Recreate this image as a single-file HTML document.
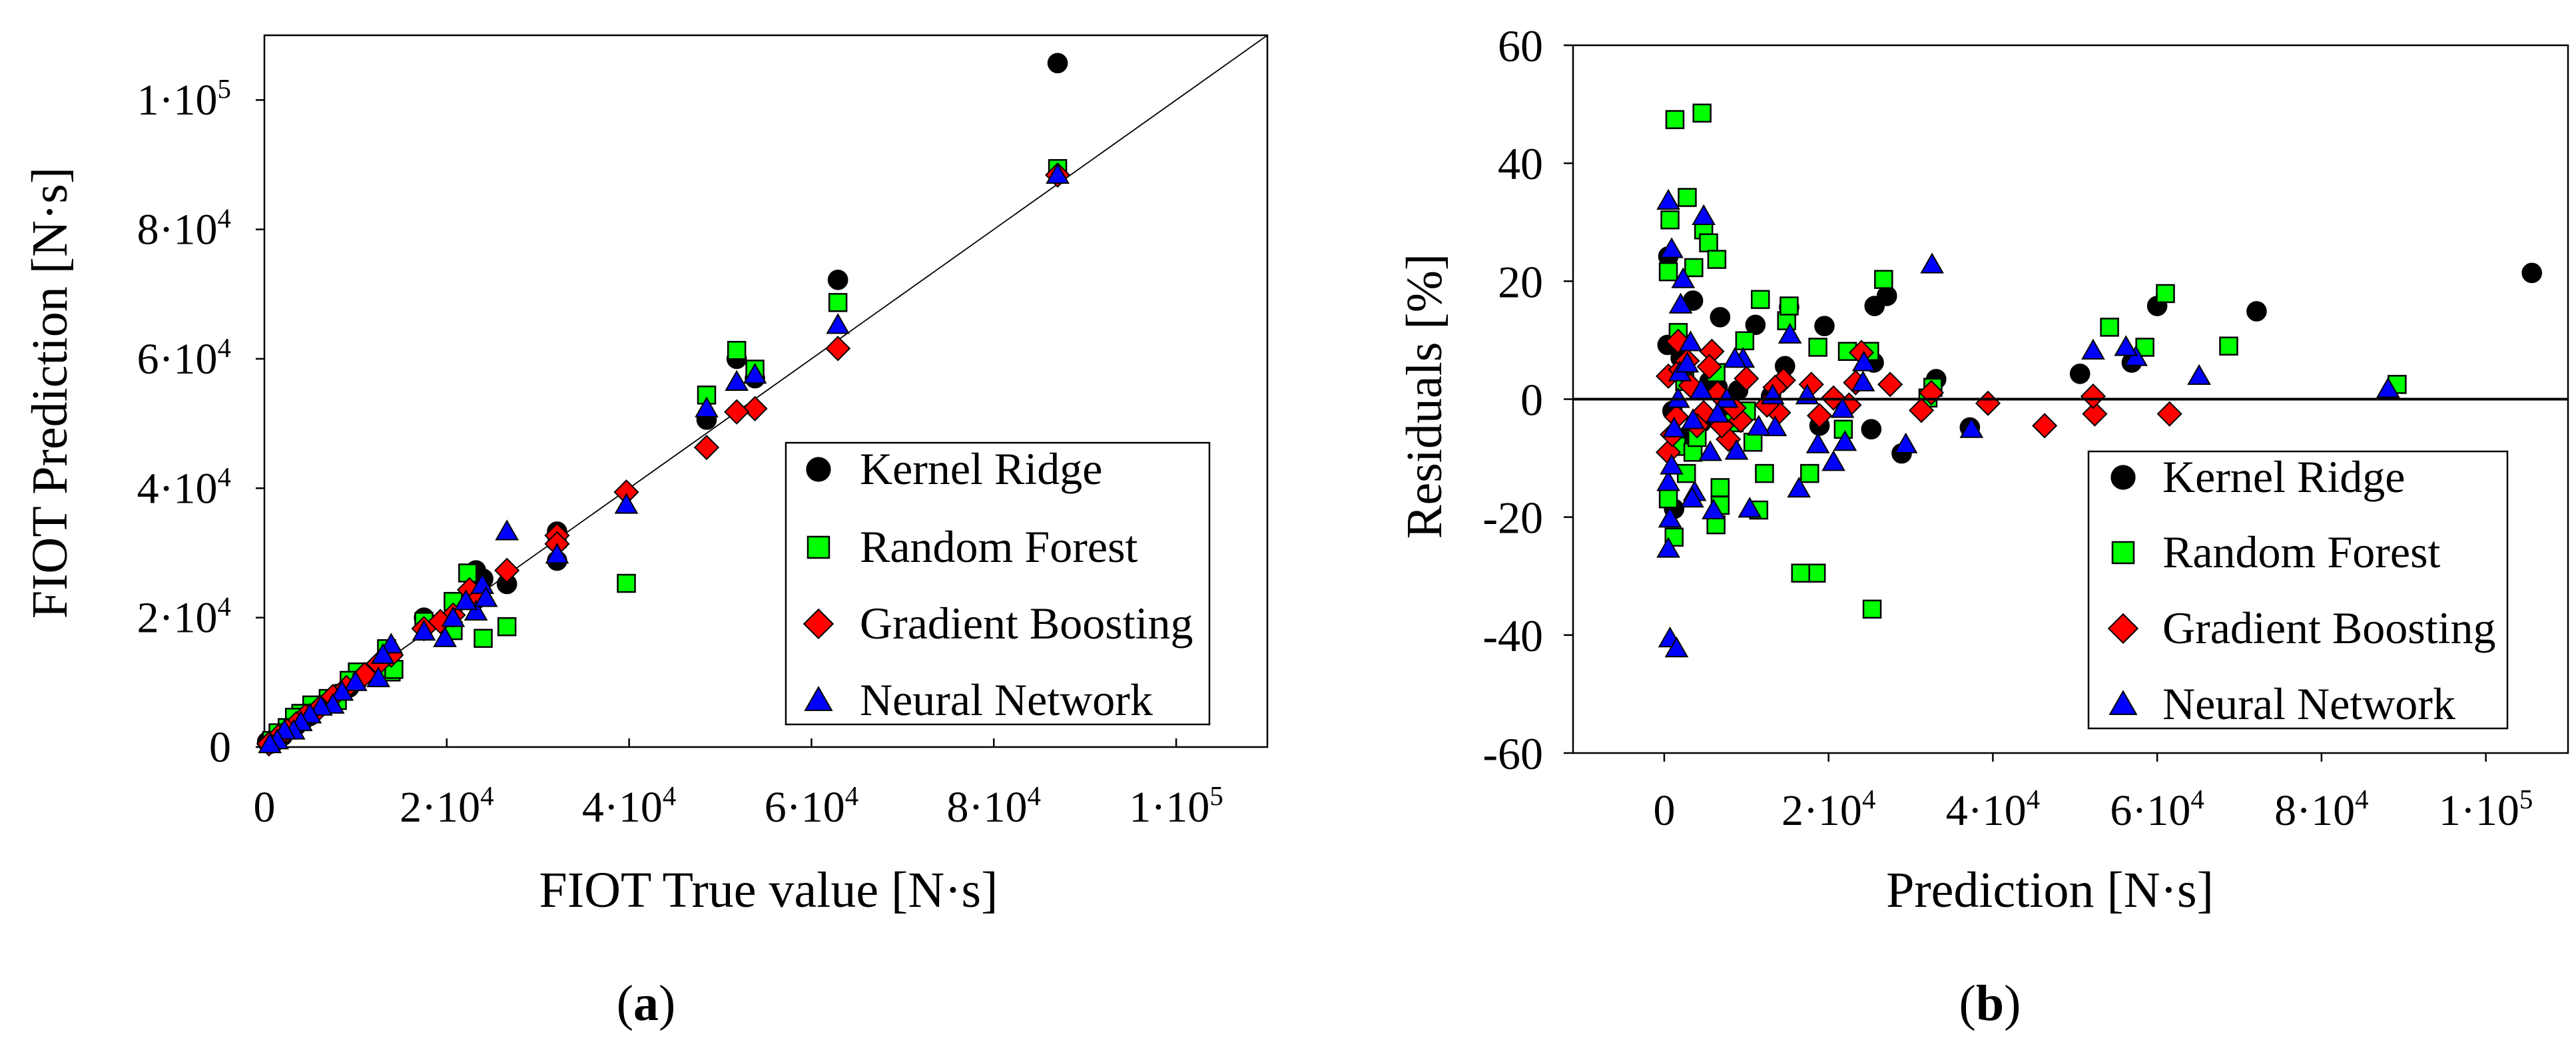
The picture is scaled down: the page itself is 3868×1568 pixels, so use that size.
<!DOCTYPE html>
<html><head><meta charset="utf-8"><style>
html,body{margin:0;padding:0;background:#fff;}
svg{display:block;}
text{font-family:"Liberation Serif",serif;fill:#000;}
</style></head><body>
<svg id="fig" width="3868" height="1568" viewBox="0 0 3868 1568" xmlns="http://www.w3.org/2000/svg">
<g id="pa"></g>
<g id="pb"></g>
</svg>
<script>
// ---- Panel (a) data: true value (1e4 N·s) vs prediction (1e4 N·s)
const aKRx=[8.70,6.29,5.18,4.85,5.38,3.21,3.21,2.66,2.32,2.40,1.75,1.39,1.25,1.02,0.93,0.80,0.70,0.60,0.50,0.42,0.35,0.28,0.20,0.12,0.06,0.03];
const aKRy=[10.57,7.22,6.00,5.06,5.70,3.33,2.88,2.52,2.73,2.60,2.00,1.45,1.10,1.02,0.92,0.82,0.72,0.63,0.48,0.40,0.33,0.30,0.17,0.14,0.05,0.08];
const aRFx=[8.70,6.29,5.18,5.38,4.85,3.97,2.66,2.40,2.23,2.07,2.07,3.21,1.75,1.34,1.39,1.02,0.93,0.80,0.70,0.52,0.40,0.33,0.25,0.15,0.08,1.30,1.42];
const aRFy=[8.94,6.87,6.13,5.84,5.44,2.53,1.86,1.68,2.69,2.25,1.80,3.22,1.94,1.52,1.16,1.16,1.03,0.72,0.75,0.65,0.52,0.46,0.30,0.22,0.10,1.20,1.20];
const aGBx=[8.70,6.29,5.38,5.18,4.85,3.97,2.66,3.21,3.21,2.25,2.07,1.93,1.75,1.39,1.25,1.10,0.90,0.75,0.60,0.45,0.35,0.25,0.15,0.05,2.35];
const aGBy=[8.84,6.16,5.23,5.18,4.63,3.94,2.73,3.27,3.14,2.43,2.04,1.94,1.83,1.42,1.29,1.12,0.92,0.78,0.60,0.48,0.36,0.25,0.16,0.05,2.30];
const aNNx=[8.70,6.29,5.18,5.38,4.85,3.97,2.66,3.21,2.39,2.32,2.21,1.98,1.75,2.07,1.39,1.30,1.25,1.00,0.85,0.75,0.62,0.50,0.40,0.32,0.22,0.14,0.06,2.43];
const aNNy=[8.84,6.52,5.64,5.75,5.23,3.74,3.33,2.97,2.50,2.09,2.25,1.68,1.78,1.99,1.58,1.42,1.06,1.00,0.85,0.65,0.62,0.50,0.38,0.25,0.25,0.10,0.04,2.30];
const aTicks=[0,2,4,6,8,10];
const aTickLabels=[["0",""],["2·10","4"],["4·10","4"],["6·10","4"],["8·10","4"],["1·10","5"]];

// ---- Panel (b) data: prediction (1e4 N·s) vs residual (%)
const bKRx=[10.56,7.21,6.00,5.69,5.06,3.31,2.89,3.72,2.71,2.56,2.52,2.55,1.95,1.52,1.47,1.11,0.68,0.35,0.05,0.04,0.12,1.89,0.30,0.55,0.75,0.90,0.20,0.45,0.10,1.30,0.65];
const bKRy=[21.4,14.9,15.8,6.2,4.3,3.4,-9.2,-4.8,17.5,15.8,-5.1,6.2,12.4,15.6,5.6,12.6,13.9,16.7,24.2,9.2,-18.6,-4.5,-6.0,3.0,-1.0,1.5,7.0,-4.0,-2.0,0.5,2.0];
const bRFx=[8.92,6.87,6.10,5.85,5.42,3.21,3.27,2.67,2.53,1.85,1.66,1.77,2.50,2.23,1.87,1.49,1.52,1.17,1.22,1.15,0.98,0.46,0.13,0.28,0.48,0.54,0.64,0.36,0.07,0.05,0.12,0.05,0.63,0.68,0.68,0.27,0.17,1.08,0.63,2.18,0.15,0.35,0.85,1.00,0.40,0.25];
const bRFy=[2.5,9.0,17.9,8.8,12.2,0.2,2.0,20.3,-35.6,-29.5,-29.5,-12.6,8.1,8.1,8.8,13.3,15.8,16.9,-12.6,-18.8,9.9,48.5,47.4,34.2,28.7,26.5,23.7,22.3,30.4,21.6,-23.4,-16.9,-21.3,-18.0,-15.0,-12.6,11.3,-7.3,4.5,-5.1,-8.0,-9.0,-4.0,-2.0,-6.5,3.0];
const bGBx=[6.15,5.24,5.22,4.63,3.94,3.25,3.13,2.75,2.40,2.33,2.06,1.79,1.89,1.45,1.39,0.93,0.58,0.17,0.05,0.05,0.48,0.78,0.32,0.20,0.40,0.65,1.00,1.25,0.10,0.55,0.28,0.85,1.35,2.25,0.15,0.70];
const bGBy=[-2.5,-2.5,0.5,-4.5,-0.7,1.1,-1.9,2.5,7.9,2.8,0.2,2.5,-2.8,3.2,-2.3,-3.6,8.1,9.8,3.9,-9.0,-2.3,-6.8,2.3,5.0,-4.5,1.0,3.5,-1.0,-6.0,5.5,6.5,-1.5,2.0,-1.0,-3.0,-4.5];
const bNNx=[8.81,6.51,5.74,5.62,5.22,3.74,3.26,2.94,2.43,2.42,2.20,2.06,2.17,1.87,1.64,1.74,1.53,1.35,1.32,1.15,1.04,0.96,0.86,0.88,0.48,0.23,0.20,0.05,0.09,0.32,0.37,0.34,0.05,0.05,0.07,0.07,0.15,0.09,0.17,0.56,0.60,0.76,0.35,0.19,0.45,0.28,0.65,0.12];
const bNNy=[1.7,3.9,7.1,8.8,8.2,-5.1,22.8,-7.7,6.2,2.8,-7.3,-10.7,-1.7,-7.7,-15.2,0.6,10.9,-4.8,0.6,-4.7,-18.6,6.8,6.8,-8.8,31.0,20.3,16.0,33.6,25.4,9.6,-15.8,-16.9,-14.1,-25.4,-20.3,-40.6,-42.3,-11.3,0.0,-9.0,-18.9,0.0,-3.6,4.5,1.5,6.0,-2.5,-5.0];
const bXTicks=[0,2,4,6,8,10];
const bXTickLabels=[["0",""],["2·10","4"],["4·10","4"],["6·10","4"],["8·10","4"],["1·10","5"]];
const bYTicks=[-60,-40,-20,0,20,40,60];
const bYTickLabels=["-60","-40","-20","0","20","40","60"];
const legendNames=["Kernel Ridge","Random Forest","Gradient Boosting","Neural Network"];

const NS="http://www.w3.org/2000/svg";
function mk(parent,tag,attrs){const e=document.createElementNS(NS,tag);for(const k in attrs)e.setAttribute(k,attrs[k]);parent.appendChild(e);return e;}
const styles=[{shape:"circle",fill:"#000"},{shape:"square",fill:"#00ff00"},{shape:"diamond",fill:"#ff0000"},{shape:"triangle",fill:"#0000ff"}];
function marker(g,shape,fill,cx,cy,s){
  let e;
  if(shape==="circle")e=mk(g,"circle",{cx:cx,cy:cy,r:s*0.55,fill:fill,stroke:"#000","stroke-width":2});
  else if(shape==="square")e=mk(g,"rect",{x:cx-s/2,y:cy-s/2,width:s,height:s,fill:fill,stroke:"#000","stroke-width":2.5});
  else if(shape==="diamond"){const d=s*0.68;e=mk(g,"polygon",{points:`${cx},${cy-d} ${cx+d},${cy} ${cx},${cy+d} ${cx-d},${cy}`,fill:fill,stroke:"#000","stroke-width":2});}
  else {const h=s*0.62;e=mk(g,"polygon",{points:`${cx},${cy-h} ${cx+h},${cy+h*0.75} ${cx-h},${cy+h*0.75}`,fill:fill,stroke:"#000","stroke-width":2});}
  return e;
}
function supLabel(g,x,y,parts,anchor,size){
  const t=mk(g,"text",{x:x,y:y,"text-anchor":anchor,"font-size":size});
  const a=document.createElementNS(NS,"tspan");a.textContent=parts[0];t.appendChild(a);
  if(parts[1]){const b=document.createElementNS(NS,"tspan");b.setAttribute("dy",-size*0.38);b.setAttribute("font-size",size*0.62);b.textContent=parts[1];t.appendChild(b);}
  return t;
}
function legend(g,x0,y0,w,h,mx,tx,rows){
  const lg=mk(g,"g",{});
  
  
  mk(lg,"rect",{x:x0,y:y0,width:w,height:h,fill:"#fff",stroke:"#000","stroke-width":2.5});
  rows.forEach((ry,i)=>{
    const eg=mk(lg,"g",{});
    
    
    marker(eg,styles[i].shape,styles[i].fill,mx,ry,32);
    const t=mk(eg,"text",{x:tx,y:ry+22,"font-size":68});t.textContent=legendNames[i];
  });
}
const MS=26;

// ---------- Panel a ----------
(function(){
  const g=document.getElementById("pa");
  const L=397,R=1903,T=53,B=1122,max=11;
  const X=v=>L+(v/max)*(R-L), Y=v=>B-(v/max)*(B-T);
  mk(g,"rect",{x:L,y:T,width:R-L,height:B-T,fill:"none",stroke:"#000","stroke-width":2.5});
  const diag=mk(g,"line",{x1:X(0),y1:Y(0),x2:X(max),y2:Y(max),stroke:"#000","stroke-width":1.8});
  
  
  aTicks.forEach((v,i)=>{
    mk(g,"line",{x1:X(v),y1:B,x2:X(v),y2:B-13,stroke:"#000","stroke-width":2.5});
    mk(g,"line",{x1:L,y1:Y(v),x2:L-13,y2:Y(v),stroke:"#000","stroke-width":2.5});
    const xl=supLabel(g,X(v),B+112,aTickLabels[i],"middle",66);
    
    
    const yl=supLabel(g,L-50,Y(v)+22,aTickLabels[i],"end",66);
    
    
  });
  const xs=[aKRx,aRFx,aGBx,aNNx], ys=[aKRy,aRFy,aGBy,aNNy];
  const names=["kernel-ridge","random-forest","gradient-boosting","neural-network"];
  xs.forEach((arr,s)=>{
    const sg=mk(g,"g",{});
    
    
    arr.forEach((v,i)=>{const m=marker(sg,styles[s].shape,styles[s].fill,X(v),Y(ys[s][i]),MS);
      
      });
  });
  legend(g,1180,665,636,423,1229,1291,[705,822,937,1052]);
  const xt=mk(g,"text",{x:1154,y:1362,"text-anchor":"middle","font-size":76});xt.textContent="FIOT True value [N·s]";
  
  
  const yt=mk(g,"text",{x:0,y:0,"text-anchor":"middle","font-size":76,transform:"translate(100,590) rotate(-90)"});yt.textContent="FIOT Prediction [N·s]";
  
  
  const cap=mk(g,"text",{x:970,y:1532,"text-anchor":"middle","font-size":76});
  cap.innerHTML='(<tspan font-weight="bold">a</tspan>)';
  
  
})();

// ---------- Panel b ----------
(function(){
  const g=document.getElementById("pb");
  const L=2362,R=3856,T=68,B=1131,xmin=-1.11,xmax=11.0,ymin=-60,ymax=60;
  const X=v=>L+(v-xmin)/(xmax-xmin)*(R-L), Y=v=>B-(v-ymin)/(ymax-ymin)*(B-T);
  mk(g,"rect",{x:L,y:T,width:R-L,height:B-T,fill:"none",stroke:"#000","stroke-width":2.5});
  bXTicks.forEach((v,i)=>{
    mk(g,"line",{x1:X(v),y1:B,x2:X(v),y2:B+13,stroke:"#000","stroke-width":2.5});
    const xl=supLabel(g,X(v),B+108,bXTickLabels[i],"middle",66);
    
    
  });
  bYTicks.forEach((v,i)=>{
    mk(g,"line",{x1:L,y1:Y(v),x2:L-14,y2:Y(v),stroke:"#000","stroke-width":2.5});
    const t=mk(g,"text",{x:2317,y:Y(v)+24,"text-anchor":"end","font-size":68});t.textContent=bYTickLabels[i];
    
    
  });
  const xs=[bKRx,bRFx,bGBx,bNNx], ys=[bKRy,bRFy,bGBy,bNNy];
  const names=["kernel-ridge","random-forest","gradient-boosting","neural-network"];
  xs.forEach((arr,s)=>{
    const sg=mk(g,"g",{});
    
    
    arr.forEach((v,i)=>{const m=marker(sg,styles[s].shape,styles[s].fill,X(v),Y(ys[s][i]),MS);
      
      });
  });
  const z=mk(g,"line",{x1:L,y1:Y(0),x2:R,y2:Y(0),stroke:"#000","stroke-width":4});
  
  
  legend(g,3136,678,629,416,3188,3247,[717,830,944,1058]);
  const xt=mk(g,"text",{x:3078,y:1362,"text-anchor":"middle","font-size":76});xt.textContent="Prediction [N·s]";
  
  
  const yt=mk(g,"text",{x:0,y:0,"text-anchor":"middle","font-size":76,transform:"translate(2164,595) rotate(-90)"});yt.textContent="Residuals [%]";
  
  
  const cap=mk(g,"text",{x:2988,y:1532,"text-anchor":"middle","font-size":76});
  cap.innerHTML='(<tspan font-weight="bold">b</tspan>)';
  
  
})();
</script>
</body></html>
